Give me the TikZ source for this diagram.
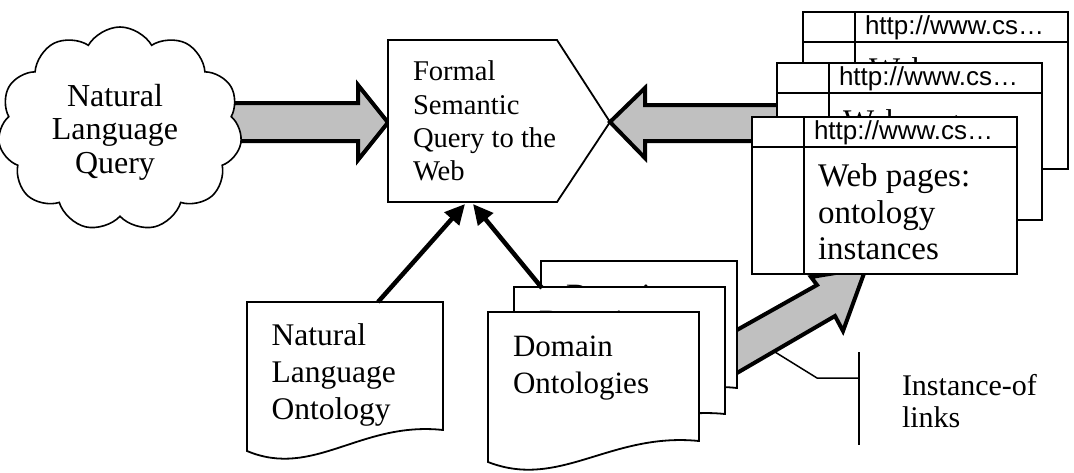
\documentclass[tikz,border=0pt]{standalone}
\usepackage{fontspec}
\setmainfont{Liberation Serif}
\newfontfamily\arialf{Liberation Sans}
\usetikzlibrary{shapes.symbols,arrows.meta}
\definecolor{fatgray}{RGB}{192,192,192}
\tikzset{
  fatarrow/.style={draw=black, fill=fatgray, line width=4pt, line join=miter, miter limit=4},
  boxline/.style={draw=black, fill=white, line width=1.8pt},
  pageline/.style={draw=black, line width=1.9pt},
  thinarrow/.style={line width=4.5pt, -{Triangle[length=20pt,width=19pt]}},
  txt/.style={inner sep=0pt, outer sep=0pt, align=left, anchor=north west},
  urltxt/.style={inner sep=0pt, outer sep=0pt, anchor=base west, font=\arialf\fontsize{26}{30}\selectfont},
  pagetxt/.style={txt, font=\fontsize{33}{36.5}\selectfont},
  domtxt/.style={txt, font=\fontsize{31}{36.7}\selectfont},
}
\newcommand\mydoc[5]{%
  \draw[boxline] (#1,#2) -- ({#1+#3},#2) -- ({#1+#3},{#2+#4})
    .. controls ({#1+0.58*#3},{#2+#4-9}) and ({#1+0.34*#3},{#2+#4+49}) .. (#1,{#2+#4+21}) -- cycle;
  \coordinate (#5) at (#1,#2);}
\newcommand\mypage[4]{%
  \fill[white] (#1,#2) rectangle ++(265,157);
  \draw[pageline] (#1,#2) rectangle ++(265,157);
  \draw[pageline] (#1,{#2+30}) -- ++(265,0);
  \draw[pageline] ({#1+52},#2) -- ++(0,157);
  \node[urltxt] (#3-url) at ({#1+62},{#2+22.5}) {http://www.cs…};
  \node[pagetxt] (#3-body) at ({#1+66},{#2+#4}) {Web pages:\\ontology\\instances};}
\begin{document}
\begin{tikzpicture}[x=1pt,y=-1pt]
\useasboundingbox (0,0) rectangle (1074,472);
% left fat arrow
\draw[fatarrow] (215,103) -- (358,103) -- (358,85) -- (388,122.5) -- (358,160) -- (358,141) -- (215,141) -- cycle;
% cloud
\node[cloud, cloud puffs=11, cloud puff arc=120, aspect=1.2, draw, fill=white, line width=1.6pt,
      minimum width=244pt, minimum height=204pt, inner sep=0pt] (nlq) at (120,129) {};
\node[txt, anchor=north, align=center, font=\fontsize{32}{33.5}\selectfont] (nlqt) at (115,84) {Natural\\Language\\Query};
% formal semantic query box
\draw[boxline] (388,40) -- (557,40) -- (610,122) -- (557,202) -- (388,202) -- cycle;
\node[txt, font=\fontsize{28.6}{33.3}\selectfont] (fsq) at (413,61) {Formal\\Semantic\\Query to the\\Web};
\coordinate (fsq-b1) at (465,204);
\coordinate (fsq-b2) at (473,204);
% right fat arrow
\draw[fatarrow] (610,122) -- (645,88) -- (645,105) -- (790,105) -- (790,141) -- (645,141) -- (645,158) -- cycle;
% diagonal fat arrow
\draw[fatarrow] (712,387.5) -- (835,316) -- (843,331) -- (866,268) -- (811,277) -- (817,285) -- (712,344) -- cycle;
\coordinate (fat-low) at (775,352);
% web pages
\mypage{803}{12}{wp1}{45.5}
\mypage{777}{63}{wp2}{46.5}
\mypage{752}{117}{wp3}{47}
% domain ontology documents
\mydoc{541}{261}{196}{127}{dom3}
\node[domtxt] (dom3t) at (566,285) {Domain\\Ontologies};
\mydoc{514}{287}{211}{127}{dom2}
\node[domtxt] (dom2t) at (539,311) {Domain\\Ontologies};
\mydoc{488}{312}{211}{129}{dom1}
\node[domtxt] (dom1t) at (513,336) {Domain\\Ontologies};
\coordinate (dom-top) at (542,288);
% natural language ontology document
\mydoc{247}{302}{196}{128}{nlo}
\node[txt, font=\fontsize{31.5}{37}\selectfont] (nlot) at (271.7,323.5) {Natural\\Language\\Ontology};
\coordinate (nlo-top) at (378,302);
% thin arrows
\draw[thinarrow] (nlo-top) -- (fsq-b1);
\draw[thinarrow] (dom-top) -- (fsq-b2);
% instance-of bracket
\coordinate (br-a) at (817,378);
\coordinate (br-b) at (859,378);
\coordinate (br-top) at (859,352);
\coordinate (br-bot) at (859,445);
\draw[line width=1.5pt] (fat-low) -- (br-a) -- (br-b);
\draw[line width=1.5pt] (br-top) -- (br-bot);
\node[txt, font=\fontsize{30}{32}\selectfont] (inst) at (902,374.5) {Instance-of\\links};
\end{tikzpicture}
\end{document}
